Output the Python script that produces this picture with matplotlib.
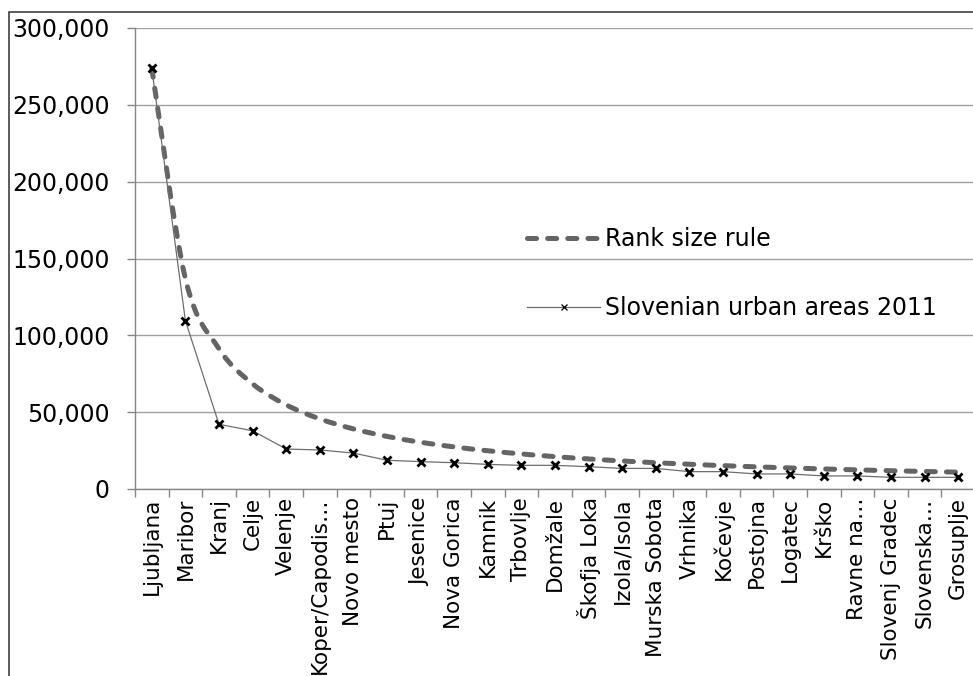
import matplotlib
matplotlib.use("Agg")
import matplotlib.pyplot as plt
from matplotlib.lines import Line2D
from matplotlib.patches import PathPatch, Rectangle
from matplotlib.path import Path
from matplotlib.ticker import FuncFormatter, FixedLocator

plt.rcParams['font.family'] = ['DejaVu Sans']
plt.rcParams['lines.scale_dashes'] = False

# urban areas, ordered by population
cities = ['Ljubljana', 'Maribor', 'Kranj', 'Celje', 'Velenje', 'Koper/Capodis…',
          'Novo mesto', 'Ptuj', 'Jesenice', 'Nova Gorica', 'Kamnik', 'Trbovlje',
          'Domžale', 'Škofja Loka', 'Izola/Isola', 'Murska Sobota', 'Vrhnika',
          'Kočevje', 'Postojna', 'Logatec', 'Krško', 'Ravne na…',
          'Slovenj Gradec', 'Slovenska…', 'Grosuplje']

urban_2011 = [273800, 109500, 42100, 37900, 26000, 25400, 23400, 18700, 17800,
              17100, 16000, 15400, 15400, 14500, 13400, 13400, 11300, 11300,
              9800, 9800, 8500, 8500, 7600, 7600, 7600]

rank_size = [273800, 136900, 91270, 68450, 54760, 45630, 39110, 34230, 30420,
             27380, 24890, 22820, 21060, 19560, 18250, 17110, 16110, 15210,
             14410, 13690, 13040, 12450, 11900, 11410, 10950]

W, H = 973, 676
fig = plt.figure(figsize=(W / 100, H / 100), dpi=100)
ax = fig.add_axes([135 / W, 1 - 489 / H, 840 / W, 461 / H])

x = list(range(len(cities)))

# smoothed rank-size curve (bezier segments, excel style)
pts = list(zip(x, rank_size))
verts = [pts[0]]
codes = [Path.MOVETO]
n = len(pts)
for i in range(n - 1):
    p0 = pts[i - 1] if i > 0 else pts[i]
    p1 = pts[i]
    p2 = pts[i + 1]
    p3 = pts[i + 2] if i + 2 < n else pts[i + 1]
    c1 = (p1[0] + (p2[0] - p0[0]) / 6, p1[1] + (p2[1] - p0[1]) / 6)
    c2 = (p2[0] - (p3[0] - p1[0]) / 6, p2[1] - (p3[1] - p1[1]) / 6)
    verts += [c1, c2, p2]
    codes += [Path.CURVE4] * 3

dash_color = '#646464'
dash_style = (0, (6.5, 8.0))
curve = PathPatch(Path(verts, codes), facecolor='none', edgecolor=dash_color,
                  lw=3.6, linestyle=dash_style, capstyle='round', zorder=3)
ax.add_patch(curve)

line_color = '#6e6e6e'
ax.plot(x, urban_2011, color=line_color, lw=0.9, marker='x', markersize=5.5,
        markeredgecolor='black', markeredgewidth=2.0, zorder=4)

ax.set_xlim(-0.5, len(cities) - 0.5)
ax.set_ylim(0, 300000)
ax.set_yticks(range(0, 300001, 50000))
ax.yaxis.set_major_formatter(FuncFormatter(lambda v, p: f'{int(v):,}'))
ax.grid(axis='y', color='#a0a0a0', lw=1.0)
ax.set_axisbelow(True)

# category boundaries get the tick marks, labels sit at the centres
ax.xaxis.set_major_locator(FixedLocator([i - 0.5 for i in range(len(cities) + 1)]))
ax.xaxis.set_major_formatter(FuncFormatter(lambda v, p: ''))
ax.xaxis.set_minor_locator(FixedLocator(x))
ax.set_xticklabels(cities, minor=True, rotation=90, fontsize=15.5, va='top')
ax.tick_params(axis='x', which='minor', length=0, pad=6)
ax.tick_params(axis='x', which='major', length=6, width=1, color='#868686', direction='out')
ax.tick_params(axis='y', length=6, width=1, color='#868686', direction='out',
               labelsize=17, pad=12)

for side in ['top', 'right']:
    ax.spines[side].set_visible(False)
for side in ['left', 'bottom']:
    ax.spines[side].set_color('#868686')
    ax.spines[side].set_linewidth(1.0)

handles = [
    Line2D([], [], color=dash_color, lw=3.6, linestyle=dash_style,
           dash_capstyle='round'),
    Line2D([], [], color=line_color, lw=0.9, marker='x', markersize=4,
           markeredgecolor='black', markeredgewidth=0.9),
]
ax.legend(handles, ['Rank size rule', 'Slovenian urban areas 2011'],
          loc='upper left', bbox_to_anchor=(527 / W, 1 - 227 / H),
          bbox_transform=fig.transFigure, frameon=False, fontsize=17,
          handlelength=3.1, handletextpad=0.2, labelspacing=1.9,
          borderpad=0, borderaxespad=0, numpoints=1)

# chart area border
fig.add_artist(Rectangle((9 / W, -0.1), 1.2, 1.1 - 12 / H, transform=fig.transFigure,
                         facecolor='none', edgecolor='#404040', lw=1.2))

fig.savefig('out.png', dpi=100)
